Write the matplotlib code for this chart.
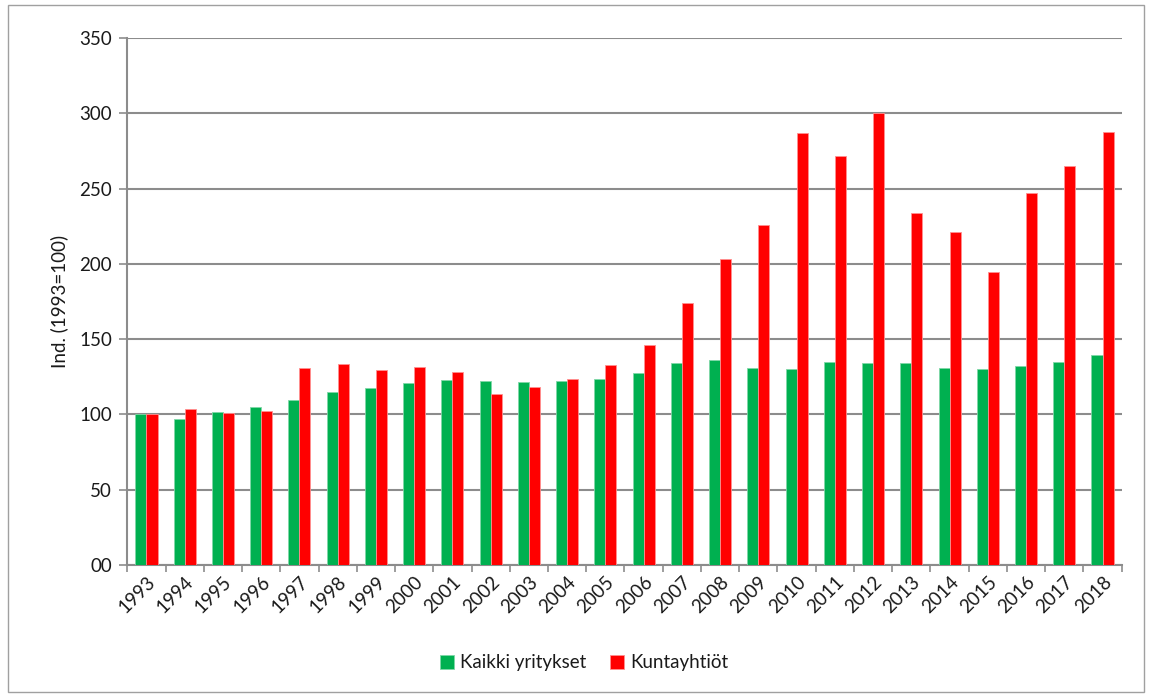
import matplotlib
matplotlib.use("Agg")
import matplotlib.pyplot as plt
import numpy as np
from matplotlib.patches import Rectangle

plt.rcParams["font.family"] = ["Lato", "DejaVu Sans"]

years = list(range(1993, 2019))
kaikki = [100, 97, 101.5, 104.6, 109.5, 114.6, 117.5, 120.8, 122.6, 122.1,
          121.4, 122.1, 123.4, 127.6, 134.2, 136.1, 131.0, 130.3, 134.6, 133.9,
          133.9, 130.6, 130.0, 132.3, 135.0, 139.2]
kunta = [100, 103.3, 100.7, 102.4, 130.7, 133.2, 129.2, 131.6, 128.1, 113.3,
         117.9, 123.2, 132.7, 146.0, 173.8, 203.2, 225.6, 286.9, 271.8, 300.0,
         233.7, 221.1, 194.8, 247.0, 264.9, 287.5]
yticks = [0, 50, 100, 150, 200, 250, 300, 350]
ytick_labels = ["00", "50", "100", "150", "200", "250", "300", "350"]

GREEN = "#00B050"
RED = "#FF0000"
TXT = "#1a1a1a"
GRID = "#8c8c8c"
FS = 13.5

fig = plt.figure(figsize=(11.52, 6.97), dpi=100)
ax = fig.add_axes([0.1105, 0.1894, 0.8632, 0.7561])

x = np.arange(len(years))
w = 0.29
ax.bar(x - w / 2, kaikki, w, color=GREEN, edgecolor="#7fd8a7", linewidth=0.6,
       label="Kaikki yritykset", zorder=3)
ax.bar(x + w / 2, kunta, w, color=RED, edgecolor="#ff9090", linewidth=0.6,
       label="Kuntayhtiöt", zorder=3)

ax.set_xlim(-0.5, len(years) - 0.5)
ax.set_ylim(0, 350)
ax.set_yticks(yticks)
ax.set_yticklabels(ytick_labels, fontsize=FS, color=TXT)
ax.set_xticks(x)
ax.set_xticklabels([str(y) for y in years], rotation=45, ha="right",
                   rotation_mode="anchor", fontsize=FS, color=TXT)
ax.tick_params(axis="x", length=0, pad=6)
ax.set_xticks(np.arange(-0.5, len(years)), minor=True)
ax.tick_params(axis="x", which="minor", length=5, color=GRID, width=1.2)
ax.tick_params(axis="y", length=6, color=GRID, width=1.2, pad=5)
ax.grid(axis="y", color=GRID, lw=1.5, zorder=0)
for s in ["top", "right"]:
    ax.spines[s].set_visible(False)
for s in ["left", "bottom"]:
    ax.spines[s].set_color(GRID)
    ax.spines[s].set_linewidth(1.5)
ax.set_ylabel("Ind. (1993=100)", fontsize=FS, color=TXT, labelpad=8)

fig.legend(loc="center", bbox_to_anchor=(0.507, 0.049), ncol=2, frameon=False,
           fontsize=FS, handlelength=0.75, handleheight=0.75, columnspacing=1.3,
           handletextpad=0.3, labelcolor=TXT)

fig.patches.append(Rectangle((0.007, 0.007), 0.986, 0.986, transform=fig.transFigure,
                             fill=False, edgecolor="#a0a0a0", lw=1))

fig.savefig("out.png", dpi=100)
